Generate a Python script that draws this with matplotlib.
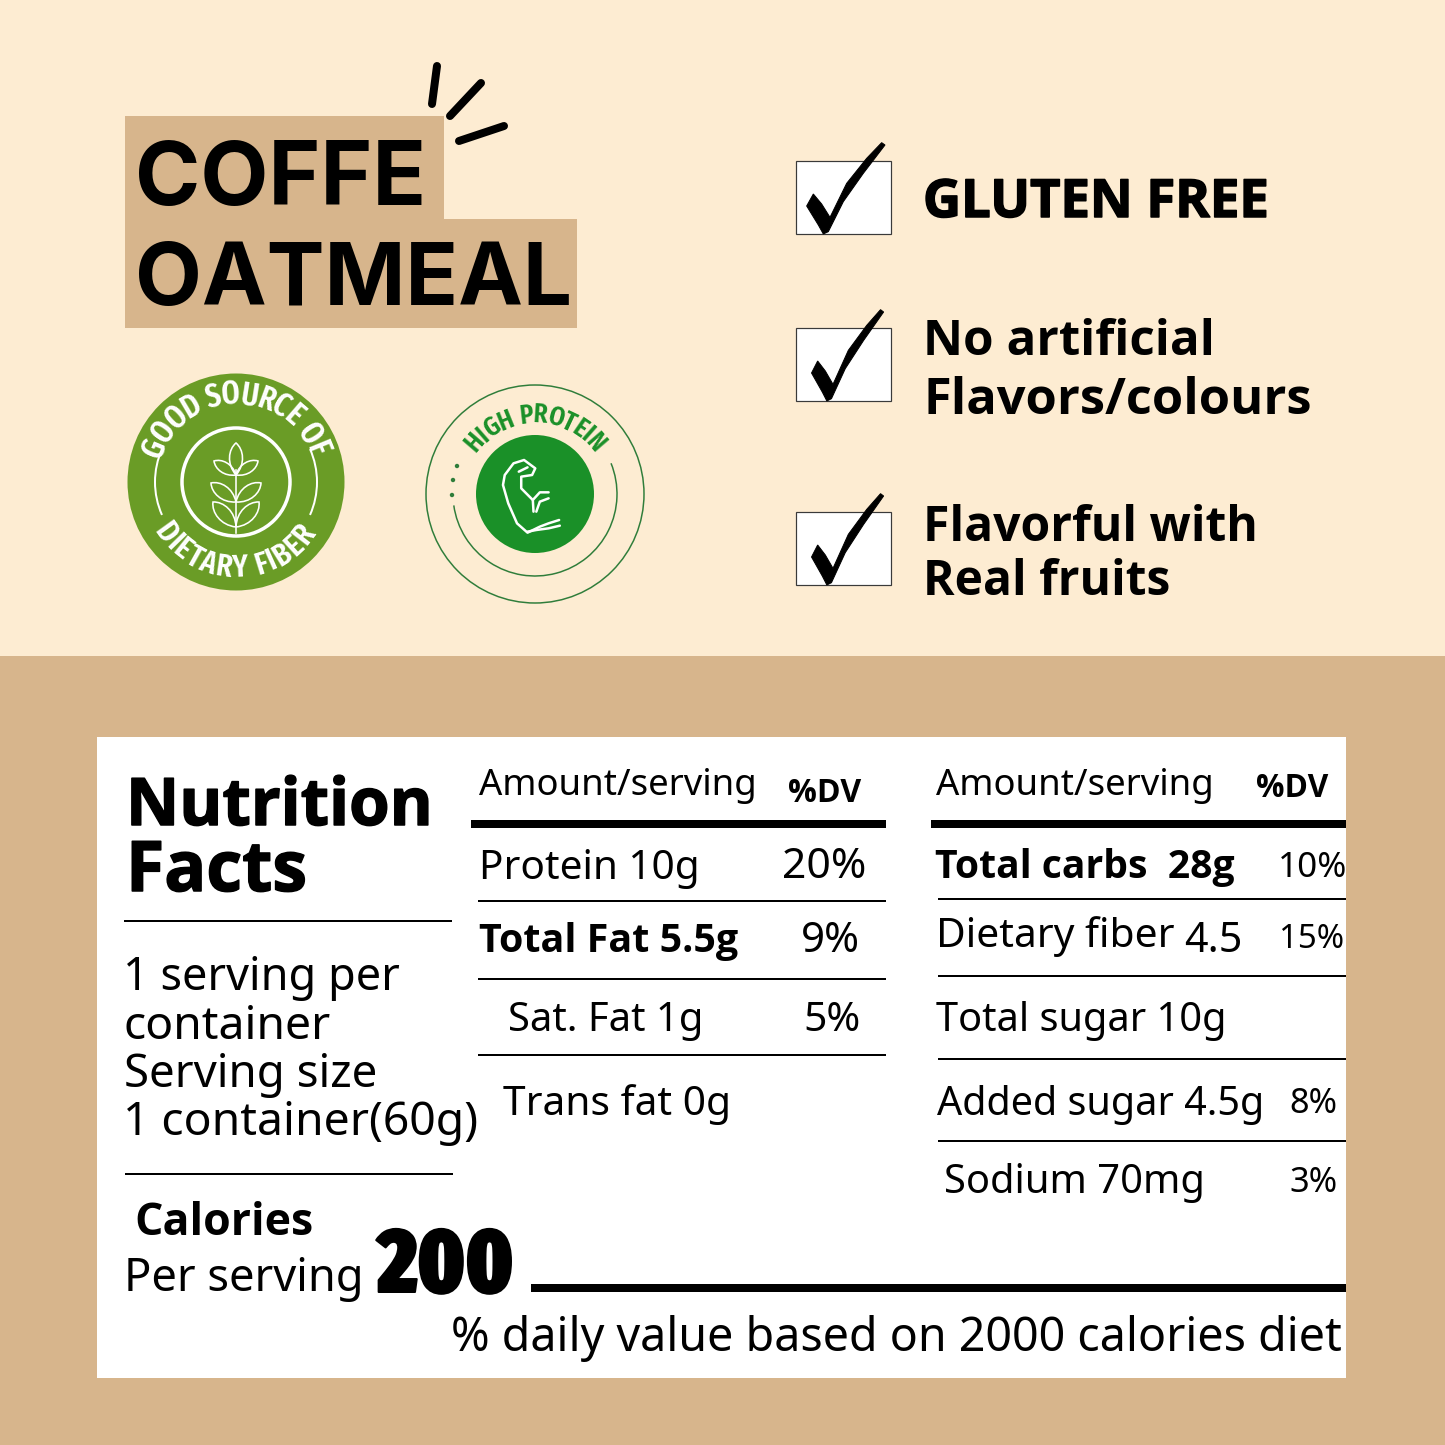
import numpy as np
import matplotlib
matplotlib.use('agg')
import matplotlib.pyplot as plt
import matplotlib.patheffects as pe
from matplotlib import font_manager
from matplotlib.font_manager import FontProperties
from matplotlib.patches import Rectangle, Circle, Arc, PathPatch, Polygon
from matplotlib.path import Path

cream = '#fdecd2'
tan = '#d7b58c'
green1 = '#6a9c26'
green2 = '#1a9028'
green3 = '#2f7d3a'

title_lines = ['COFFE', 'OATMEAL']
claims = ['GLUTEN FREE', 'No artificial', 'Flavors/colours', 'Flavorful with', 'Real fruits']
left_rows = ['Protein 10g', 'Total Fat 5.5g', 'Sat. Fat 1g', 'Trans fat 0g']
left_dv = ['20%', '9%', '5%']
right_rows = ['Total carbs  28g', 'Dietary fiber', 'Total sugar 10g', 'Added sugar 4.5g', 'Sodium 70mg']
right_dv = ['10%', '15%', '8%', '3%']
serving = ['1 serving per', 'container', 'Serving size', '1 container(60g)']
calories = '200'


def weight_of(f):
    w = f.weight
    if isinstance(w, str):
        return {'bold': 700, 'semibold': 600, 'black': 900, 'heavy': 900, 'medium': 500}.get(w, 400)
    return w


def narrowness(f):
    n = (f.name + ' ' + f.fname).replace(' ', '')
    if 'ExtraCondensed' in n:
        return 3
    if 'SemiCondensed' in n:
        return 0
    if 'Condensed' in n or 'Narrow' in n:
        return 2
    return -1


# narrowest faces on the machine: heaviest for the big number, a bold one for the badges
faces = [f for f in font_manager.fontManager.ttflist if narrowness(f) >= 0 and f.style == 'normal']
if faces:
    best = max(narrowness(f) for f in faces)
    faces = [f for f in faces if narrowness(f) == best]
    heavy_fp = FontProperties(fname=max(faces, key=weight_of).fname)
    medium_fp = FontProperties(fname=min(faces, key=lambda f: abs(weight_of(f) - 600)).fname)
else:
    heavy_fp = FontProperties(family='Liberation Sans', weight='bold')
    medium_fp = heavy_fp

fig = plt.figure(figsize=(14.45, 14.45), dpi=100)
ax = fig.add_axes([0, 0, 1, 1])
ax.set_xlim(0, 1445)
ax.set_ylim(1445, 0)
ax.axis('off')
rend = fig.canvas.get_renderer()


def px(w):
    return w * 0.72


def T(s, x0, x1, y, weight='normal', family=None, color='black', stroke=0, fp=None):
    # size is fitted so the string spans x0..x1
    if family is None:
        family = 'Open Sans' if weight == 'bold' else 'Noto Sans'
    if fp is not None:
        t = ax.text(x0 - 2, y, s, fontproperties=fp.copy(), color=color, ha='left', va='baseline', zorder=5)
        t.set_fontsize(30)
    else:
        t = ax.text(x0 - 2, y, s, fontsize=30, fontweight=weight, family=family, color=color,
                    ha='left', va='baseline', zorder=5)
    w = t.get_window_extent(rend).width
    t.set_fontsize(30 * (x1 - x0 + 3) / w)
    if stroke:
        t.set_path_effects([pe.withStroke(linewidth=px(stroke), foreground=color)])
    return t


def hline(x0, x1, y, w=2):
    ax.plot([x0, x1], [y, y], color='black', lw=px(w), solid_capstyle='butt', zorder=4)


def arc_text(s, cx, cy, r, a0, a1, top=True, color='white'):
    widths = []
    for c in s:
        t = ax.text(0, 0, c if c != ' ' else 'I', fontproperties=medium_fp.copy())
        t.set_fontsize(20)
        widths.append(t.get_window_extent(rend).width * (1.02 if c != ' ' else 1.0))
        t.remove()
    widths = np.array(widths)
    arc_len = np.radians(abs(a1 - a0)) * r
    size = min(20 * arc_len / widths.sum(), 24)
    mids = (np.cumsum(widths) - widths / 2) / widths.sum()
    for c, m in zip(s, mids):
        a = a0 + (a1 - a0) * m
        x = cx + r * np.cos(np.radians(a))
        y = cy - r * np.sin(np.radians(a))
        rot = a - 90 if top else a + 90
        t = ax.text(x, y, c, fontproperties=medium_fp.copy(), color=color, rotation=rot,
                    rotation_mode='anchor', ha='center', va='center', zorder=6)
        t.set_fontsize(size)


def leaf(base, tip, bulge, color='white', w=1.6):
    b = np.array(base, float)
    t = np.array(tip, float)
    d = t - b
    n = np.array([-d[1], d[0]]) * bulge
    verts = [b, b + d * 0.35 + n, t - d * 0.2 + n * 0.8, t, t - d * 0.2 - n * 0.8, b + d * 0.35 - n, b]
    codes = [Path.MOVETO, Path.CURVE4, Path.CURVE4, Path.CURVE4, Path.CURVE4, Path.CURVE4, Path.CURVE4]
    ax.add_patch(PathPatch(Path(verts, codes), fc='none', ec=color, lw=px(w), zorder=6))


# backgrounds
ax.add_patch(Rectangle((0, 0), 1445, 656, color=cream, lw=0))
ax.add_patch(Rectangle((0, 656), 1445, 789, color=tan, lw=0))
ax.add_patch(Rectangle((97, 737), 1249, 641, color='white', lw=0))

# title block
ax.add_patch(Rectangle((125, 116), 319, 103, color=tan, lw=0, zorder=2))
ax.add_patch(Rectangle((125, 219), 452, 109, color=tan, lw=0, zorder=2))
T(title_lines[0], 137, 425, 205, 'bold', 'Inter')
T(title_lines[1], 137, 571, 305, 'bold', 'Inter')
for a, b in [((437, 66), (432, 104)), ((481, 83), (450, 116)), ((504, 126), (459, 141))]:
    ax.plot([a[0], b[0]], [a[1], b[1]], color='black', lw=px(8), solid_capstyle='round', zorder=4)

# fiber badge
cx, cy = 236, 482
ax.add_patch(Circle((cx, cy), 108.5, fc=green1, ec='none', zorder=3))
ax.add_patch(Circle((cx, cy), 54, fc='none', ec='white', lw=px(3.5), zorder=6))
ax.add_patch(Arc((cx, cy), 162, 162, theta1=156, theta2=204, color='white', lw=px(2), zorder=6))
ax.add_patch(Arc((cx, cy), 162, 162, theta1=-24, theta2=24, color='white', lw=px(2), zorder=6))
ax.plot([cx, cx], [470, 533], color='white', lw=px(1.6), zorder=6)
leaf((cx, 475), (cx, 443), 0.3)
for base, dx, tip in [(475, 22, 461), (502, 25, 483), (527, 23, 502)]:
    leaf((cx, base), (cx + dx, tip), 0.3)
    leaf((cx, base), (cx - dx, tip), 0.3)
arc_text('GOOD SOURCE OF', cx, cy, 87, 163, 18)
arc_text('DIETARY FIBER', cx, cy, 87, 210, 328, top=False)

# protein badge
cx2, cy2 = 535, 494
ax.add_patch(Circle((cx2, cy2), 109, fc='none', ec=green3, lw=px(1.5), zorder=3))
ax.add_patch(Circle((cx2, cy2), 59, fc=green2, ec='none', zorder=3))
ax.add_patch(Arc((cx2, cy2), 164, 164, theta1=-22, theta2=172, color=green3, lw=px(1.5), zorder=3))
for dot in [(457, 466), (453, 480), (452, 495)]:
    ax.add_patch(Circle(dot, 2.2, fc=green3, ec='none', zorder=3))
arc_text('HIGH PROTEIN', cx2, cy2, 79, 145, 35, color=green2)


def Z(pts):
    return [(110 + p[0] / 2.85, 360 + p[1] / 3) for p in pts]


arm = [
    [(1207, 455), (1205, 420), (1172, 385), (1172, 350), (1203, 345), (1212, 325), (1180, 300), (1150, 310),
     (1125, 345), (1120, 375), (1135, 430), (1160, 490), (1190, 518), (1225, 500), (1250, 490), (1280, 480)],
    [(1190, 515), (1215, 510), (1250, 505), (1282, 497)],
    [(1205, 420), (1225, 397), (1250, 397)],
    [(1215, 455), (1225, 425), (1250, 415)],
    [(1165, 335), (1190, 322)],
]
for seg in arm:
    xy = np.array(Z(seg))
    ax.plot(xy[:, 0], xy[:, 1], color='white', lw=px(2.5), solid_joinstyle='round', solid_capstyle='round', zorder=6)

# check boxes
check = np.array([(100, 192), (80, 228), (115, 285), (130, 312), (145, 305), (190, 215), (250, 130), (315, 45),
                  (305, 38), (260, 85), (200, 160), (150, 262), (125, 222)], float) / 3
for top, dx, sx in [(161, 0, 1.0), (328, 7, 0.92), (512, 7, 0.92)]:
    ax.add_patch(Rectangle((796, top), 95, 73, fc='white', ec='#3a3a3a', lw=px(1.2), zorder=3))
    pts = check.copy()
    pts[:, 0] = 780 + dx + pts[:, 0] * sx
    pts[:, 1] = top - 31 + pts[:, 1]
    ax.add_patch(Polygon(pts, closed=True, fc='black', ec='black', lw=px(1), zorder=4))

T(claims[0], 925, 1268, 217, 'bold', stroke=1.5)
T(claims[1], 925, 1214, 355, 'bold')
T(claims[2], 925, 1311, 414, 'bold')
T(claims[3], 925, 1257, 541, 'bold')
T(claims[4], 925, 1170, 595, 'bold')

# left panel
T('Nutrition', 128, 432, 825, 'bold', stroke=1.5)
T('Facts', 128, 306, 891, 'bold', stroke=1.5)
hline(124, 452, 921)
for s, x0, x1, y in zip(serving, [125, 126, 126, 125], [398, 330, 376, 477], [990, 1039, 1087, 1135]):
    T(s, x0, x1, y)
hline(125, 453, 1174)
T('Calories', 136, 312, 1235, 'bold')
T('Per serving', 126, 362, 1291)
T(calories, 380, 512, 1292, stroke=2, fp=heavy_fp)
hline(531, 1346, 1288, 8)
T('% daily value based on 2000 calories diet', 453, 1339, 1351)

# middle column
T('Amount/serving', 481, 755, 795)
T('%DV', 790, 860, 802, 'bold')
hline(471, 886, 824, 8)
T(left_rows[0], 481, 698, 879)
T(left_dv[0], 784, 865, 878)
hline(478, 886, 901)
T(left_rows[1], 481, 737, 952, 'bold')
T(left_dv[1], 803, 859, 952)
hline(478, 886, 979)
T(left_rows[2], 510, 702, 1031)
T(left_dv[2], 805, 859, 1031)
hline(478, 886, 1055)
T(left_rows[3], 505, 730, 1115)

# right column
T('Amount/serving', 938, 1212, 795)
T('%DV', 1258, 1327, 797, 'bold')
hline(931, 1346, 824, 8)
T(right_rows[0], 937, 1234, 878, 'bold')
T(right_dv[0], 1280, 1346, 877)
hline(938, 1346, 899)
T(right_rows[1], 938, 1173, 947)
T('4.5', 1186, 1241, 952)
T(right_dv[1], 1281, 1343, 948)
hline(938, 1346, 976)
T(right_rows[2], 938, 1225, 1031)
hline(938, 1346, 1059)
T(right_rows[3], 939, 1263, 1115)
T(right_dv[2], 1291, 1336, 1113)
hline(938, 1346, 1141)
T(right_rows[4], 946, 1203, 1193)
T(right_dv[3], 1291, 1336, 1192)

fig.savefig('out.png', dpi=100)
